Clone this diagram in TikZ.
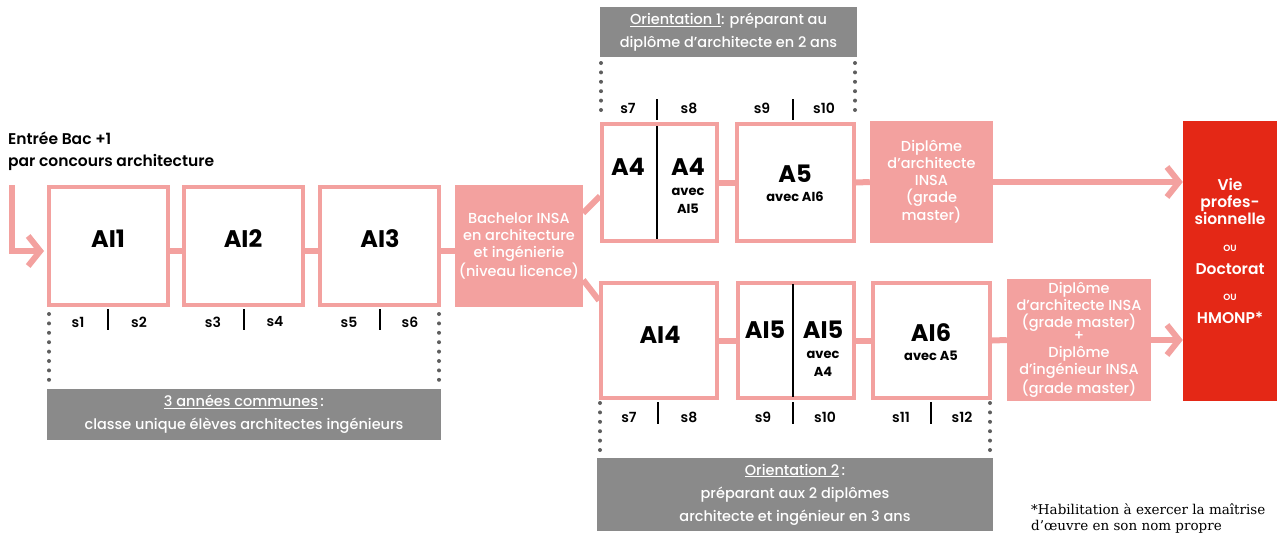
\documentclass[tikz,border=0pt]{standalone}
\usepackage{fontspec}
\setmainfont{Poppins}[UprightFont=* Medium, BoldFont=* Bold]
\newfontfamily\demi{Poppins SemiBold}
\newfontfamily\notefont{DejaVu Serif}
\usetikzlibrary{arrows.meta}
\definecolor{rose}{HTML}{F3A19F}
\definecolor{rouge}{HTML}{E42816}
\definecolor{gris}{HTML}{8A8A8A}
\definecolor{points}{HTML}{5E5E5E}
\tikzset{
  annee/.style={draw=rose, line width=4pt, fill=white, inner sep=0pt},
  diplome/.style={fill=rose, text=white, inner sep=0pt, align=center, font=\fontsize{14.5}{17}\selectfont},
  bandeau/.style={fill=gris, text=white, inner sep=0pt, align=center, font=\fontsize{14.5}{23}\selectfont},
  lien/.style={draw=rose, line width=6pt},
  fleche/.style={lien, -{Straight Barb[length=12pt,width=30pt]}},
  pointille/.style={draw=points, line width=4pt, line cap=round, dash pattern=on 0pt off 9.4pt},
  sem/.style={font=\demi\fontsize{14}{14}\selectfont, inner sep=0pt},
  separe/.style={draw=black, line width=1.5pt},
  grand/.style={font=\bfseries\fontsize{24}{24}\selectfont, inner sep=0pt},
  petit/.style={font=\bfseries\fontsize{13}{18}\selectfont, inner sep=0pt, align=center},
}
\begin{document}
\begin{tikzpicture}[x=1pt,y=-1pt]
		%%%%% START %%%%%
		\useasboundingbox (0,0) rectangle (1279,536);
		
		\node[anchor=west, align=left, inner sep=0pt, font=\demi\fontsize{15.5}{22}\selectfont] (entreetxt) at (8,151) {Entrée Bac +1\\par concours architecture};
		
		% tronc commun
		\node[annee, minimum width=119pt, minimum height=118pt] (AI1) at (108.5,246) {};
		\node[annee, minimum width=119pt, minimum height=118pt] (AI2) at (243.5,246) {};
		\node[annee, minimum width=119pt, minimum height=118pt] (AI3) at (379.5,246) {};
		\node[grand] (lAI1) at (108,239) {AI1};
		\node[grand] (lAI2) at (243,239) {AI2};
		\node[grand] (lAI3) at (380,239) {AI3};
		\node[diplome, minimum width=128pt, minimum height=122pt] (bach) at (519,246) {Bachelor INSA\\en architecture\\et ingénierie\\(niveau licence)};
		
		\coordinate (entree) at (12,185);
		\draw[fleche] (entree) |- ([xshift=-3pt,yshift=-5pt]AI1.west);
		\draw[lien] ([yshift=-5pt]AI1.east) -- ([yshift=-5pt]AI2.west);
		\draw[lien] ([yshift=-5pt]AI2.east) -- ([yshift=-5pt]AI3.west);
		\draw[lien] ([yshift=-5pt]AI3.east) -- ([yshift=-5pt]bach.west);
		
		\node[sem] (s1) at (78,322) {s1};
		\node[sem] (s2) at (139,322) {s2};
		\node[sem] (s3) at (213,322) {s3};
		\node[sem] (s4) at (275,322) {s4};
		\node[sem] (s5) at (349,322) {s5};
		\node[sem] (s6) at (410,322) {s6};
		\draw[separe] (108,309) -- (108,330);
		\draw[separe] (244,309) -- (244,330);
		\draw[separe] (380,309) -- (380,330);
		
		\draw[pointille] (49,314) -- (49,388);
		\draw[pointille] (439,314) -- (439,388);
		\node[bandeau, minimum width=394pt, minimum height=51pt] (commun) at (244,414.5) {\underline{3 années communes}\,:\\classe unique élèves architectes ingénieurs};
		
		% orientation 1
		\node[bandeau, minimum width=257pt, minimum height=50pt] (orient1) at (728.5,32) {\underline{Orientation 1}: préparant au\\diplôme d’architecte en 2 ans};
		\draw[pointille] (601,63) -- (601,119);
		\draw[pointille] (855,63) -- (855,119);
		\node[sem] (h7) at (628,108) {s7};
		\node[sem] (h8) at (689,108) {s8};
		\node[sem] (h9) at (762,108) {s9};
		\node[sem] (h10) at (824,108) {s10};
		\draw[separe] (657,99) -- (657,120);
		\draw[separe] (793,99) -- (793,120);
		
		\node[annee, minimum width=115pt, minimum height=117pt] (A4) at (659.5,182.5) {};
		\node[annee, minimum width=117pt, minimum height=117pt] (A5) at (795.5,182.5) {};
		\draw[separe] (657,126) -- (657,239);
		\node[grand] (lA4a) at (628,167) {A4};
		\node[grand] (lA4b) at (688,167) {A4};
		\node[petit] (lA4c) at (688,201) {avec\\AI5};
		\node[grand] (lA5) at (795,174) {A5};
		\node[petit] (lA5b) at (795,197) {avec AI6};
		\node[diplome, minimum width=123pt, minimum height=122pt] (dipA) at (931.5,182) {Diplôme\\d’architecte\\INSA\\(grade\\master)};
		
		% orientation 2
		\node[annee, minimum width=116pt, minimum height=115pt] (AI4) at (659,340.5) {};
		\node[annee, minimum width=116pt, minimum height=115pt] (AI5) at (796,340.5) {};
		\node[annee, minimum width=117pt, minimum height=115pt] (AI6) at (931.5,340.5) {};
		\draw[separe] (793,284) -- (793,397);
		\node[grand] (lAI4) at (660,335) {AI4};
		\node[grand] (lAI5a) at (765,330) {AI5};
		\node[grand] (lAI5b) at (823,330) {AI5};
		\node[petit] (lAI5c) at (823,364) {avec\\A4};
		\node[grand] (lAI6) at (931,333) {AI6};
		\node[petit] (lAI6b) at (931,356) {avec A5};
		\node[diplome, minimum width=144pt, minimum height=122pt] (dipB) at (1079,340) {Diplôme\\d’architecte INSA\\(grade master)\\[-4pt]+\\Diplôme\\d’ingénieur INSA\\(grade master)};
		
		\node[sem] (b7) at (629,417) {s7};
		\node[sem] (b8) at (689,417) {s8};
		\node[sem] (b9) at (763,417) {s9};
		\node[sem] (b10) at (825,417) {s10};
		\node[sem] (b11) at (901,417) {s11};
		\node[sem] (b12) at (962,417) {s12};
		\draw[separe] (658,402) -- (658,424);
		\draw[separe] (793,402) -- (793,424);
		\draw[separe] (931,402) -- (931,424);
		\draw[pointille] (600,403) -- (600,457);
		\draw[pointille] (990,403) -- (990,457);
		\node[bandeau, minimum width=396pt, minimum height=73pt] (orient2) at (795,494.5) {\underline{Orientation 2}\,:\\préparant aux 2 diplômes\\architecte et ingénieur en 3 ans};
		
		% debouches
		\node[fill=rouge, minimum width=94pt, minimum height=280pt, inner sep=0pt] (vie) at (1230,261) {};
		\node[text=white, align=center, inner sep=0pt, font=\demi\fontsize{15.5}{17}\selectfont] (vietxt) at (1230,251) {Vie\\profes-\\sionnelle\\[10pt]{\fontsize{9}{9}\selectfont OU}\\[6pt]Doctorat\\[9pt]{\fontsize{9}{9}\selectfont OU}\\[6pt]HMONP*};
		
		\draw[lien] (A4.east) -- (A5.west);
		\draw[lien] (A5.east) -- (dipA.west);
		\draw[lien] (AI4.east) -- (AI5.west);
		\draw[lien] (AI5.east) -- (AI6.west);
		\draw[lien] (AI6.east) -- (dipB.west);
		\draw[lien] ([yshift=33pt]bach.east) -- ([yshift=-13.5pt]A4.west);
		\draw[lien] ([yshift=-34pt]bach.east) -- ([yshift=40pt]AI4.west);
		\draw[fleche] (dipA.east) -- (dipA.east -| vie.west);
		\draw[fleche] (dipB.east) -- (dipB.east -| vie.west);
		
		\node[anchor=north west, align=left, inner sep=0pt, font=\notefont\fontsize{13.5}{16}\selectfont] (note) at (1031,503) {*Habilitation à exercer la maîtrise\\d’œuvre en son nom propre};
		%%%%% END %%%%%
\end{tikzpicture}
\end{document}
